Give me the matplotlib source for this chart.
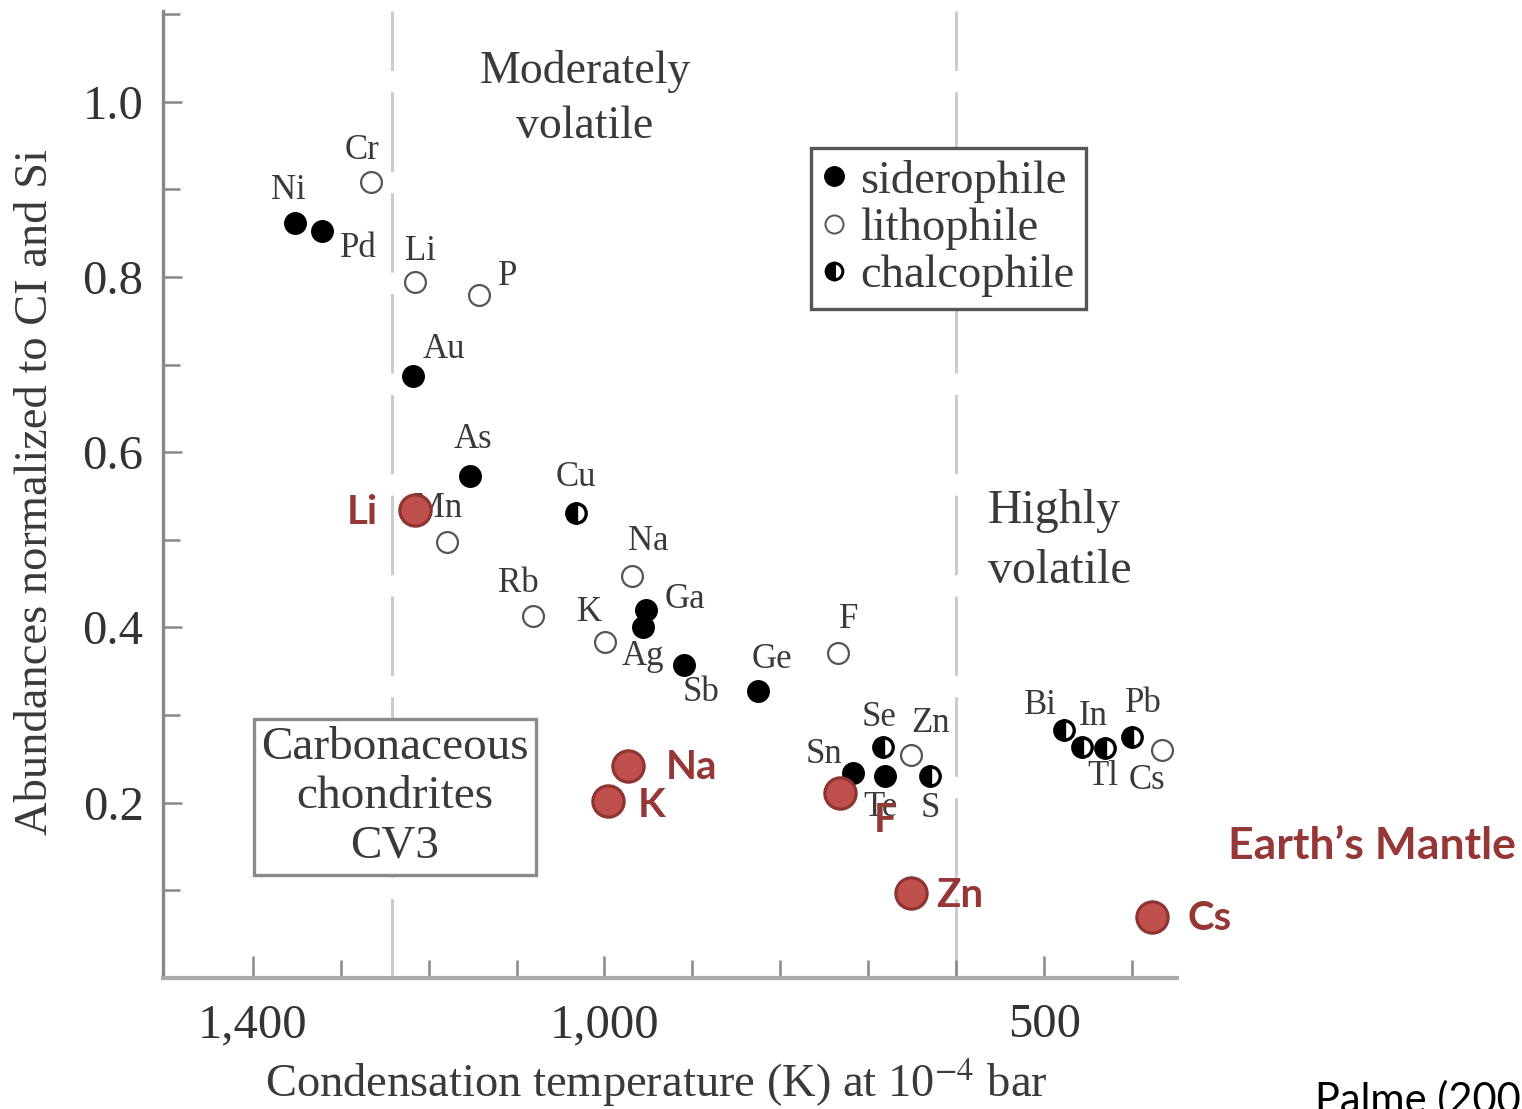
import matplotlib.pyplot as plt
from matplotlib.lines import Line2D

# condensation temperature (K) and abundance normalized to CI and Si
sid_el = ['Ni', 'Pd', 'Au', 'As', 'Ga', 'Ag', 'Sb', 'Ge', 'Sn', 'Te']
sid_T = [1352, 1321, 1218, 1153, 953, 956, 910, 825, 717, 681]
sid_A = [0.862, 0.852, 0.687, 0.573, 0.420, 0.400, 0.357, 0.327, 0.234, 0.230]

lith_el = ['Cr', 'Li', 'P', 'Mn', 'Rb', 'Na', 'K', 'F', 'Zn', 'Cs']
lith_T = [1265, 1215, 1143, 1179, 1081, 969, 999, 734, 652, 366]
lith_A = [0.908, 0.794, 0.779, 0.498, 0.413, 0.459, 0.383, 0.371, 0.255, 0.260]

chal_el = ['Cu', 'Se', 'S', 'Bi', 'In', 'Tl', 'Pb']
chal_T = [1032, 683, 630, 478, 457, 431, 400]
chal_A = [0.531, 0.264, 0.230, 0.283, 0.264, 0.263, 0.275]

mantle_el = ['Li', 'Na', 'K', 'F', 'Zn', 'Cs']
mantle_T = [1215, 973, 996, 732, 651, 377]
mantle_A = [0.534, 0.242, 0.202, 0.211, 0.097, 0.070]

region_T = [1242, 600]

# label offsets in pixels (dx right, dy down)
lab_off = {
    'Ni': (-7, -32), 'Pd': (36, 17), 'Au': (31, -26), 'As': (3, -36), 'Ga': (39, -10),
    'Ag': (0, 29), 'Sb': (17, 27), 'Ge': (14, -32), 'Sn': (-29, -18), 'Te': (-5, 31),
    'Cr': (-9, -32), 'Li': (5, -31), 'P': (29, -19), 'Mn': (-9, -33), 'Rb': (-15, -33),
    'Na': (17, -34), 'K': (-16, -30), 'F': (10, -33), 'Zn': (20, -31), 'Cs': (-15, 30),
    'Cu': (0, -35), 'Se': (-4, -29), 'S': (0, 32), 'Bi': (-23, -25), 'In': (11, -30),
    'Tl': (-2, 29), 'Pb': (11, -34),
}
mantle_off = {'Li': (-53, 2), 'Na': (63, 2), 'K': (44, 5), 'F': (45, 27), 'Zn': (48, 3), 'Cs': (57, 2)}

plt.rcParams['mathtext.fontset'] = 'stix'
serif = 'Liberation Serif'
txt_col = '#3a3a3a'
red_fill = '#C0504D'
red_edge = '#8E3431'
red_txt = '#953735'

fig = plt.figure(figsize=(15.22, 11.09), dpi=100)
ax = fig.add_axes([163 / 1522, 1 - 978 / 1109, (1177 - 163) / 1522, (978 - 11) / 1109])
ax.set_xlim(1502, 349)
ax.set_ylim(0, 1.1035)

for t in region_T:
    ax.axvline(t, color='#cccccc', lw=2.2, ls=(0, (26, 7)), zorder=1)

ax.plot(sid_T, sid_A, 'o', ls='', ms=15.5, mfc='black', mec='black', mew=1, zorder=3)
ax.plot(lith_T, lith_A, 'o', ls='', ms=15, mfc='white', mec='#555555', mew=1.6, zorder=3)
ax.plot(chal_T, chal_A, 'o', ls='', ms=14, fillstyle='left', mfc='black', mfcalt='white',
        mec='black', mew=2.4, zorder=3)

for names, T, A in [(sid_el, sid_T, sid_A), (lith_el, lith_T, lith_A), (chal_el, chal_T, chal_A)]:
    for n, t, a in zip(names, T, A):
        dx, dy = lab_off[n]
        ax.annotate(n, (t, a), xytext=(dx, -dy), textcoords='offset pixels', ha='center',
                    va='center', fontsize=25, family=serif, color=txt_col, zorder=2)

ax.plot(mantle_T, mantle_A, 'o', ls='', ms=22.5, mfc=red_fill, mec=red_edge, mew=2.3,
        zorder=5, clip_on=False)
for n, t, a in zip(mantle_el, mantle_T, mantle_A):
    dx, dy = mantle_off[n]
    ax.annotate(n, (t, a), xytext=(dx, -dy), textcoords='offset pixels', ha='center',
                va='center', fontsize=29, family='Lato', fontweight='bold', color=red_txt,
                zorder=6, annotation_clip=False)

fig.text(1228 / 1522, 1 - 846 / 1109, 'Earth\u2019s Mantle', ha='left', va='center', fontsize=32,
         family='Lato', fontweight='bold', color=red_txt)
fig.text(1315 / 1522, -4 / 1109, 'Palme (2003)', ha='left', va='baseline', fontsize=30,
         family='Lato', color='black')

# region labels
ax.text(0.416, (978 - 99) / 967, 'Moderately\nvolatile', transform=ax.transAxes, ha='center',
        va='center', fontsize=33, family=serif, color=txt_col, linespacing=1.4)
ax.text(0.8136, (978 - 541) / 967, 'Highly\nvolatile', transform=ax.transAxes, ha='left',
        va='center', fontsize=34.5, family=serif, color=txt_col, linespacing=1.45)
ax.text((395 - 163) / 1014, (978 - 797) / 967, 'Carbonaceous\nchondrites\nCV3', transform=ax.transAxes,
        ha='center', va='center', fontsize=34, family=serif, color=txt_col, linespacing=1.22,
        bbox=dict(boxstyle='square,pad=0.15', fc='white', ec='#8a8a8a', lw=2.4))

handles = [
    Line2D([], [], marker='o', ls='', ms=14, mfc='black', mec='black'),
    Line2D([], [], marker='o', ls='', ms=13, mfc='white', mec='#555555', mew=1.4),
    Line2D([], [], marker='o', ls='', ms=12, fillstyle='left', mfc='black', mfcalt='white', mec='black', mew=2.2),
]
leg = ax.legend(handles, ['siderophile', 'lithophile', 'chalcophile'], loc='upper left',
                bbox_to_anchor=((811 - 163) / 1014, (978 - 148) / 967), fancybox=False,
                prop={'family': serif, 'size': 33.5}, labelspacing=0.1, handlelength=0.5,
                handletextpad=0.3, borderpad=0.25, borderaxespad=0, framealpha=1)
leg.get_frame().set_edgecolor('#555555')
leg.get_frame().set_linewidth(2.4)
for t in leg.get_texts():
    t.set_color(txt_col)

# axes styling
for s in ['top', 'right']:
    ax.spines[s].set_visible(False)
ax.spines['left'].set_color('#888888')
ax.spines['left'].set_linewidth(2.4)
ax.spines['bottom'].set_color('#aaaaaa')
ax.spines['bottom'].set_linewidth(3)

ax.set_xticks([1400, 1000, 500])
ax.set_xticklabels(['1,400', '1,000', '500'])
ax.set_xticks(list(range(400, 1500, 100)), minor=True)
ax.set_yticks([0.2, 0.4, 0.6, 0.8, 1.0])
ax.set_yticklabels(['0.2', '0.4', '0.6', '0.8', '1.0'])
ax.set_yticks([0.1, 0.3, 0.5, 0.7, 0.9, 1.1], minor=True)
ax.tick_params(axis='both', which='both', direction='in', color='#888888', width=1.8)
ax.tick_params(axis='x', which='major', length=16, pad=18)
ax.tick_params(axis='x', which='minor', length=13)
ax.tick_params(axis='y', which='major', length=14, pad=14)
ax.tick_params(axis='y', which='minor', length=12)
for lab in ax.get_xticklabels() + ax.get_yticklabels():
    lab.set_family(serif)
    lab.set_fontsize(35)
    lab.set_color('#333333')

ax.set_xlabel('Condensation temperature (K) at 10$^{-4}$ bar', fontsize=33.5, family=serif,
              color=txt_col)
ax.xaxis.set_label_coords((656 - 163) / 1014, -(1055 - 978) / 967)
ax.set_ylabel('Abundances normalized to CI and Si', fontsize=33.5, family=serif, color=txt_col)
ax.yaxis.set_label_coords((57 - 163) / 1014, (978 - 492) / 967)

fig.savefig('out.png', dpi=100)
